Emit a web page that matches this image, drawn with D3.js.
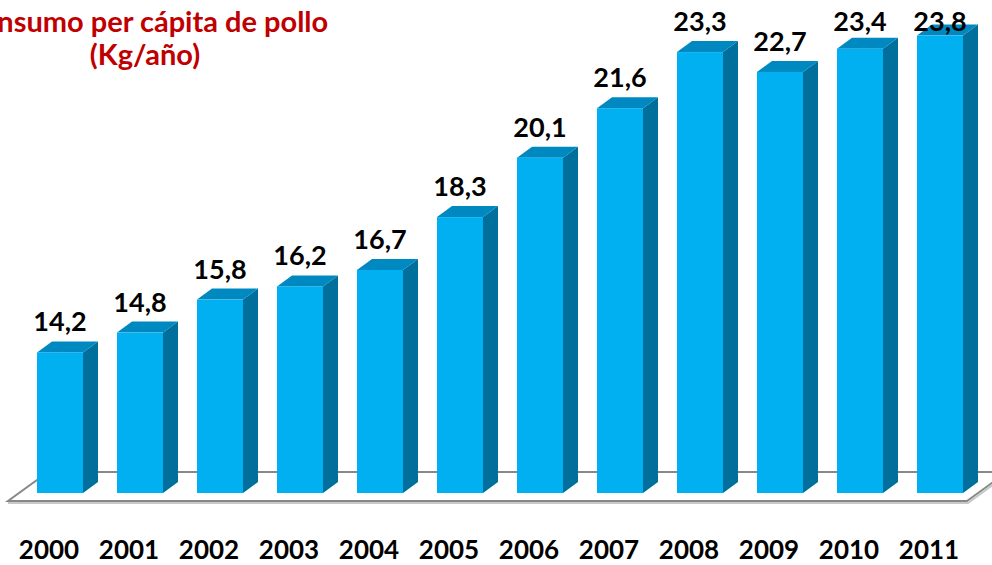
<!DOCTYPE html>
<html>
<head>
  <script src="https://d3js.org/d3.v7.min.js"></script>
  <style>
    body { margin: 0; background: #fff; }
    text { font-family: Lato, "Open Sans", sans-serif; font-weight: bold; }
  </style>
</head>
<body>
  <svg id="chart" width="992" height="565"></svg>
  <script>
    const years = ['2000', '2001', '2002', '2003', '2004', '2005', '2006', '2007', '2008', '2009', '2010', '2011'];
    const consumo = [14.2, 14.8, 15.8, 16.2, 16.7, 18.3, 20.1, 21.6, 23.3, 22.7, 23.4, 23.8];
    const titleLines = ['Consumo per cápita de pollo', '(Kg/año)'];

    const svg = d3.select('svg#chart');
    const depthX = 15, depthY = 11;
    const baseY = 493;

    const xScale = d3.scaleBand()
      .domain(years)
      .range([20, 980])
      .paddingInner(0.425)
      .paddingOuter(0.2125);

    const yScale = d3.scaleLinear()
      .domain([9.94, 24])
      .range([baseY, 29]);

    // floor
    const floor = svg.append('g');
    floor.append('path')
      .attr('d', 'M8,503 L968,503 L1008,474')
      .attr('fill', 'none')
      .attr('stroke', '#c8c8c8')
      .attr('stroke-width', 2);
    floor.append('path')
      .attr('d', 'M48,472 L8,501 L967,501 L1007,472 Z')
      .attr('fill', '#fff')
      .attr('stroke', '#888')
      .attr('stroke-width', 2);

    const bars = svg.append('g').selectAll('g.bar')
      .data(years.map((y, i) => ({ year: y, value: consumo[i] })))
      .join('g')
      .attr('class', 'bar');

    const bw = xScale.bandwidth();

    // side face
    bars.append('path')
      .attr('fill', '#006f9c')
      .attr('d', d => {
        const x1 = xScale(d.year) + bw, yt = yScale(d.value);
        return `M${x1},${yt} L${x1 + depthX},${yt - depthY} L${x1 + depthX},${baseY - depthY} L${x1},${baseY} Z`;
      });
    // top face
    bars.append('path')
      .attr('fill', '#0088c0')
      .attr('d', d => {
        const x0 = xScale(d.year), yt = yScale(d.value);
        return `M${x0},${yt} L${x0 + depthX},${yt - depthY} L${x0 + bw + depthX},${yt - depthY} L${x0 + bw},${yt} Z`;
      });
    // front face
    bars.append('rect')
      .attr('fill', '#00b0f0')
      .attr('x', d => xScale(d.year))
      .attr('y', d => yScale(d.value))
      .attr('width', bw)
      .attr('height', d => baseY - yScale(d.value));

    // value labels
    bars.append('text')
      .attr('x', d => xScale(d.year) + bw / 2)
      .attr('y', d => Math.max(yScale(d.value) - 21, 31))
      .attr('text-anchor', 'middle')
      .style('font-size', '27px')
      .style('fill', '#000')
      .text(d => d.value.toFixed(1).replace('.', ','));

    // year labels
    svg.append('g').selectAll('text')
      .data(years)
      .join('text')
      .attr('x', d => xScale(d) + bw / 2 - 11)
      .attr('y', 559)
      .attr('text-anchor', 'middle')
      .style('font-size', '26px')
      .style('fill', '#000')
      .text(d => d);

    // title (left edge is cut off, as in the original)
    svg.append('g').selectAll('text')
      .data(titleLines)
      .join('text')
      .attr('x', 145)
      .attr('y', (d, i) => 32 + i * 33)
      .attr('text-anchor', 'middle')
      .style('font-size', '29px')
      .style('fill', '#c00000')
      .text(d => d);
  </script>
</body>
</html>
